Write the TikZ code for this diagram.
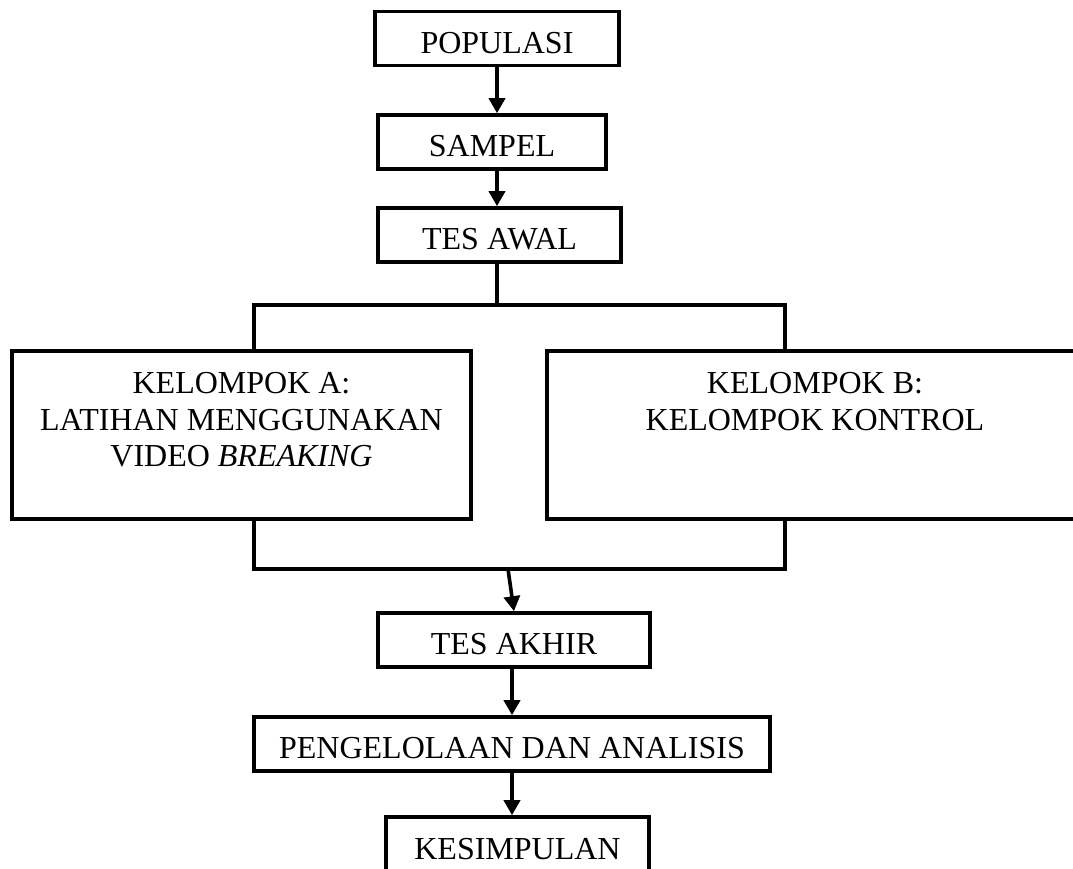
\documentclass[tikz,border=0pt]{standalone}
\usepackage{fontspec}
\setmainfont{Liberation Serif}
\usetikzlibrary{arrows.meta}

\newcommand{\grouptext}[2]{\parbox[c][84pt][t]{#1}{\centering\rule{0pt}{21.25pt}#2}}

\begin{document}
\begin{tikzpicture}[x=0.5pt, y=-0.5pt,
    stage/.style={draw, line width=1.8pt, inner sep=0pt, minimum height=27pt,
                  text height=14.5pt, text depth=0pt, font=\fontsize{16}{18.25}\selectfont},
    group/.style={draw, line width=1.8pt, inner sep=0pt, font=\fontsize{16}{18.25}\selectfont},
    link/.style={line width=1.8pt},
    flow/.style={link, -{Triangle[length=7.5pt, width=8pt]}}]
    \useasboundingbox (0,0) rectangle (1073,869);

    % stages before the treatment
    \node[stage, minimum width=122pt] (populasi) at (497,38.5) {POPULASI};
    \node[stage, minimum width=114pt] (sampel) at (492,142) {SAMPEL};
    \node[stage, minimum width=121.5pt] (awal) at (499.5,235) {TES AWAL};

    % the two groups
    \node[group] (grpA) at (241.5,435)
      {\grouptext{229.5pt}{KELOMPOK A:\\ LATIHAN MENGGUNAKAN\\ VIDEO \textit{BREAKING}}};
    \node[group] (grpB) at (815,435)
      {\grouptext{268pt}{KELOMPOK B:\\ KELOMPOK KONTROL}};

    % stages after the treatment
    \node[stage, minimum width=136pt] (akhir) at (514,640) {TES AKHIR};
    \node[stage, minimum width=258pt] (olah) at (512,744) {PENGELOLAAN DAN ANALISIS};
    \node[stage, minimum width=131.5pt, minimum height=28pt] (simpul) at (517.5,845) {KESIMPULAN};

    \coordinate (split) at (497,305);
    \coordinate (splitL) at (254,305);
    \coordinate (splitR) at (785,305);
    \coordinate (join) at (508,569);
    \coordinate (joinL) at (254,569);
    \coordinate (joinR) at (785,569);

    \draw[flow] (populasi.south) -- (populasi.south |- sampel.north);
    \draw[flow] (sampel.south -| populasi) -- (awal.north -| populasi);
    \draw[link] (awal.south -| split) -- (split);
    \draw[link] (splitL |- grpA.north) -- (splitL) -- (splitR) -- (splitR |- grpB.north);
    \draw[link] (joinL |- grpA.south) -- (joinL) -- (joinR) -- (joinR |- grpB.south);
    \draw[flow] (join) -- (akhir.north);
    \draw[flow] (akhir.south -| olah) -- (olah.north);
    \draw[flow] (olah.south) -- (olah.south |- simpul.north);
\end{tikzpicture}
\end{document}
